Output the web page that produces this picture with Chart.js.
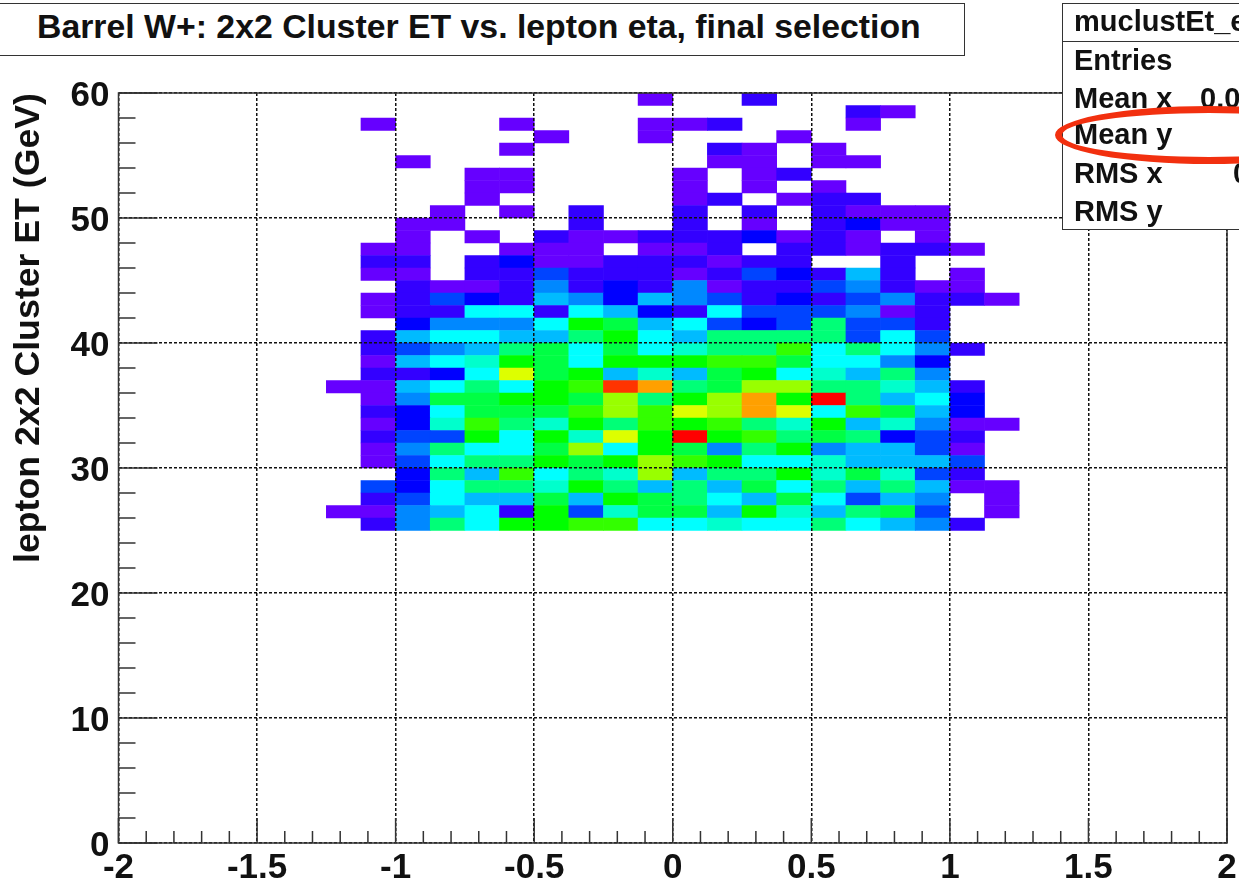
<!DOCTYPE html>
<html>
<head>
<meta charset="utf-8">
<script src="https://cdn.jsdelivr.net/npm/chart.js@4"></script>
<style>
  html, body { margin: 0; padding: 0; background: #fff; width: 1239px; height: 881px; overflow: hidden; }
  body { position: relative; font-family: "Liberation Sans", sans-serif; font-weight: bold; color: #111; }
  canvas { position: absolute; left: 0; top: 0; }
  .box { position: absolute; background: #fff; border: 1.5px solid #333; box-sizing: border-box; }
  #title { left: -2px; top: 3px; width: 967px; height: 53px; font-size: 33.8px; line-height: 44px; padding-left: 38px; white-space: nowrap; }
  #stats { left: 1062px; top: 3px; width: 300px; height: 227px; font-size: 29px; }
  #stats .head { position: absolute; left: 0; right: 0; top: 0; height: 37px; border-bottom: 1.5px solid #333; }
  #stats span { position: absolute; white-space: nowrap; line-height: 34px; }
  #ring { position: absolute; left: 1055px; top: 106px; width: 308px; height: 58px; box-sizing: border-box; border: 7px solid #f2300f; border-radius: 50%; }
</style>
</head>
<body>
<canvas id="hist" width="1239" height="881"></canvas>
<div class="box" id="title">Barrel W+: 2x2 Cluster ET vs. lepton eta, final selection</div>
<div class="box" id="stats">
  <div class="head"></div>
  <span style="left:11px;top:0px">muclustEt_e</span>
  <span style="left:11px;top:39px">Entries</span>
  <span style="left:11px;top:77px">Mean x</span>
  <span style="left:137px;top:77px">0.0</span>
  <span style="left:11px;top:113px">Mean y</span>
  <span style="left:11px;top:152px">RMS x</span>
  <span style="left:170px;top:152px">0</span>
  <span style="left:11px;top:190px">RMS y</span>
</div>
<div id="ring"></div>
<script>
const xTicks = [-2, -1.5, -1, -0.5, 0, 0.5, 1, 1.5, 2];
const yTicks = [0, 10, 20, 30, 40, 50, 60];
const xMinor = [-1.9, -1.8, -1.7, -1.6, -1.4, -1.3, -1.2, -1.1, -0.9, -0.8, -0.7, -0.6, -0.4, -0.3, -0.2, -0.1,
  0.1, 0.2, 0.3, 0.4, 0.6, 0.7, 0.8, 0.9, 1.1, 1.2, 1.3, 1.4, 1.6, 1.7, 1.8, 1.9];
const yMinor = [2, 4, 6, 8, 12, 14, 16, 18, 22, 24, 26, 28, 32, 34, 36, 38, 42, 44, 46, 48, 52, 54, 56, 58];

// left edge of each eta bin
const etaBins = [-1.25, -1.125, -1, -0.875, -0.75, -0.625, -0.5, -0.375, -0.25, -0.125,
  0, 0.125, 0.25, 0.375, 0.5, 0.625, 0.75, 0.875, 1, 1.125];
// lower edge of each ET bin, same order as the rows below
const etBins = [59, 58, 57, 56, 55, 54, 53, 52, 51, 50, 49, 48, 47, 46, 45, 44, 43, 42,
  41, 40, 39, 38, 37, 36, 35, 34, 33, 32, 31, 30, 29, 28, 27, 26, 25];
// bin contents, 0 = empty
const counts = [
  [0,0,0,0,0,0,0,0,0,1, 0,0,2,0,0,0,0,0,0,0],
  [0,0,0,0,0,0,0,0,0,0, 0,0,0,0,0,2,1,0,0,0],
  [0,1,0,0,0,1,0,0,0,1, 1,2,0,0,0,1,0,0,0,0],
  [0,0,0,0,0,0,1,0,0,1, 0,0,0,1,0,0,0,0,0,0],
  [0,0,0,0,0,1,0,0,0,0, 0,2,1,0,1,0,0,0,0,0],
  [0,0,1,0,0,0,0,0,0,0, 0,1,1,0,1,1,0,0,0,0],
  [0,0,0,0,1,1,0,0,0,0, 1,0,1,2,0,0,0,0,0,0],
  [0,0,0,0,1,1,0,0,0,0, 1,0,1,0,1,0,0,0,0,0],
  [0,0,0,0,1,0,0,0,0,0, 1,2,0,1,2,2,0,0,0,0],
  [0,0,0,1,0,1,0,2,0,0, 2,0,2,0,2,1,1,1,0,0],
  [0,0,1,1,0,0,0,2,0,0, 2,0,1,0,2,3,1,1,0,0],
  [0,0,1,0,1,0,2,1,1,2, 2,2,3,1,2,1,0,1,0,0],
  [0,1,1,0,0,1,1,1,0,1, 1,2,0,2,2,1,2,2,1,0],
  [0,2,2,0,2,3,1,1,2,2, 2,1,2,2,0,0,2,0,0,0],
  [0,1,1,0,2,2,4,2,2,2, 1,2,4,3,2,6,2,0,1,0],
  [0,0,2,1,1,2,5,2,3,2, 5,1,2,2,4,5,2,1,1,0],
  [0,1,2,4,3,2,6,5,3,6, 5,4,2,3,2,4,5,2,2,1],
  [0,1,2,2,7,7,2,7,6,3, 2,7,4,4,4,5,1,2,0,0],
  [0,0,3,5,5,5,7,11,10,6, 7,4,3,4,9,4,4,2,0,0],
  [0,2,6,7,7,6,6,9,11,7, 6,9,9,9,9,4,7,4,0,0],
  [0,2,4,5,6,9,10,7,10,7, 8,9,9,12,7,9,7,5,2,0],
  [0,1,6,7,8,11,10,7,11,11, 11,12,12,10,7,7,5,3,0,0],
  [0,2,2,3,7,14,10,11,6,8, 6,10,11,7,8,6,9,5,0,0],
  [1,1,6,7,9,7,11,12,16,15, 9,10,13,13,9,9,8,6,2,0],
  [0,1,5,10,10,11,11,10,13,9, 11,13,15,11,17,9,6,7,3,0],
  [0,2,3,7,10,10,10,12,13,12, 14,13,15,14,7,12,10,6,3,0],
  [0,1,3,8,12,9,8,11,9,12, 11,12,9,8,11,6,8,5,1,1],
  [0,2,4,4,11,7,11,8,14,11, 17,11,12,9,10,9,3,4,2,0],
  [0,1,5,9,7,7,10,13,7,11, 10,5,9,11,5,6,6,4,1,0],
  [0,1,4,7,9,9,11,10,11,13, 12,11,7,7,8,6,6,6,4,0],
  [0,0,3,9,6,12,7,9,8,13, 6,9,9,11,8,10,8,4,2,0],
  [0,4,3,7,9,9,8,11,9,6, 9,6,10,7,9,6,9,6,1,1],
  [0,2,4,7,6,6,10,6,11,10, 9,7,6,10,7,4,6,5,0,1],
  [1,1,5,6,7,2,11,4,8,10, 10,6,11,8,6,9,10,4,0,1],
  [0,2,5,9,7,11,11,12,12,7, 7,8,7,7,9,7,6,5,2,0]
];

const binWidth = 0.125;
const palette = ['#ffffff', '#6600ff', '#3300ff', '#0000ff', '#0044ff', '#0088ff', '#00bbff', '#00ffff',
  '#00ffcc', '#00ff77', '#00ff44', '#00ff00', '#33ff00', '#99ff00', '#ddff00', '#ffa000', '#ff3300', '#ff0000'];

const cells = [];
counts.forEach((row, r) => {
  row.forEach((n, c) => {
    if (n > 0) cells.push({ x: etaBins[c] + binWidth / 2, y: [etBins[r], etBins[r] + 1], n });
  });
});

// ROOT style inward ticks and the closed frame
const frameTicks = {
  id: 'frameTicks',
  afterDraw(chart) {
    const { ctx, chartArea: a, scales: { x, y } } = chart;
    ctx.save();
    ctx.strokeStyle = '#333';
    ctx.lineWidth = 1.5;
    ctx.strokeRect(a.left, a.top, a.right - a.left, a.bottom - a.top);
    ctx.beginPath();
    xMinor.forEach(v => { const p = x.getPixelForValue(v); ctx.moveTo(p, a.bottom); ctx.lineTo(p, a.bottom - 12); });
    xTicks.forEach(v => { const p = x.getPixelForValue(v); ctx.moveTo(p, a.bottom); ctx.lineTo(p, a.bottom - 25); });
    yMinor.forEach(v => { const p = y.getPixelForValue(v); ctx.moveTo(a.left, p); ctx.lineTo(a.left + 17, p); });
    yTicks.forEach(v => { const p = y.getPixelForValue(v); ctx.moveTo(a.left, p); ctx.lineTo(a.left + 39, p); });
    ctx.stroke();
    ctx.restore();
  }
};

const labelFont = { family: '"Liberation Sans"', size: 35, weight: 'bold' };
const gridOpts = { color: '#111', lineWidth: 1.5, drawTicks: false, z: 1 };

new Chart(document.getElementById('hist'), {
  type: 'bar',
  data: {
    datasets: [{
      data: cells,
      backgroundColor: c => palette[c.raw ? c.raw.n : 0],
      borderWidth: 0,
      barThickness: 34.64,
      grouped: false
    }]
  },
  options: {
    responsive: false,
    animation: false,
    layout: { padding: { top: 93, right: 12, left: 0, bottom: 0 } },
    plugins: { legend: { display: false }, tooltip: { enabled: false } },
    scales: {
      x: {
        type: 'linear', min: -2, max: 2, offset: false,
        grid: { ...gridOpts, offset: false },
        border: { display: false, dash: [3, 2] },
        afterBuildTicks: s => { s.ticks = xTicks.map(v => ({ value: v })); },
        afterFit: s => { s.height = 38; s.paddingLeft = 0; s.paddingRight = 0; },
        ticks: { color: '#111', font: labelFont, padding: 4, maxRotation: 0, autoSkip: false, callback: v => String(v) }
      },
      y: {
        type: 'linear', min: 0, max: 60,
        grid: gridOpts,
        border: { display: false, dash: [3, 2] },
        afterBuildTicks: s => { s.ticks = yTicks.map(v => ({ value: v })); },
        afterFit: s => { s.width = 118.5; s.paddingTop = 0; s.paddingBottom = 0; },
        ticks: { color: '#111', font: labelFont, padding: 9, labelOffset: 3, autoSkip: false, callback: v => String(v) },
        title: {
          display: true, text: 'lepton 2x2 Cluster ET (GeV)', align: 'end', color: '#111',
          font: { family: '"Liberation Sans"', size: 35.7, weight: 'bold' }, padding: { top: 8, bottom: 0 }
        }
      }
    }
  },
  plugins: [frameTicks]
});
</script>
</body>
</html>
